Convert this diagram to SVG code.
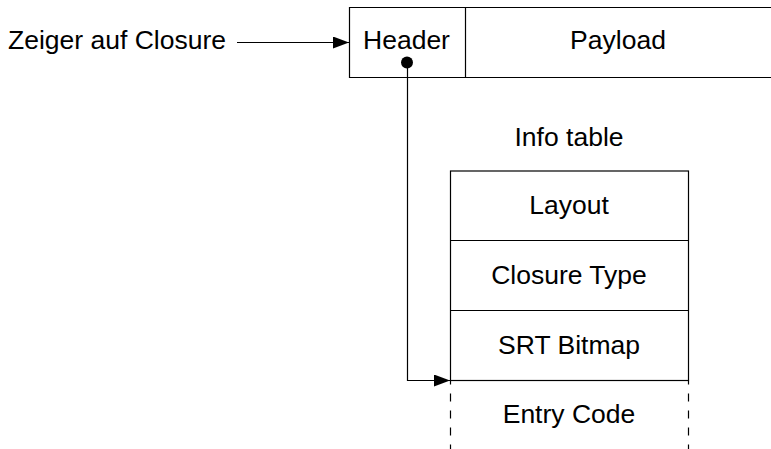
<svg xmlns="http://www.w3.org/2000/svg" width="771" height="449" viewBox="0 0 771 449">
  <style>
    text { font-family: "Liberation Sans", Arial, sans-serif; font-size: 26.5px; fill: #000; }
    .box { fill: #fff; stroke: #000; stroke-width: 1.2; }
    .line { fill: none; stroke: #000; stroke-width: 1.2; }
    .dash { fill: none; stroke: #000; stroke-width: 1.2; stroke-dasharray: 8 9; stroke-dashoffset: -13; }
  </style>
  <defs>
    <marker id="arrow" viewBox="0 0 16 12" refX="16" refY="6" markerWidth="16" markerHeight="12" markerUnits="userSpaceOnUse" orient="auto">
      <path d="M0,0 L16,6 L0,12 Z" fill="#000"/>
    </marker>
  </defs>

  <rect width="771" height="449" fill="#fff"/>

  <!-- pointer label -->
  <g id="pointer">
    <text x="8" y="49">Zeiger auf Closure</text>
  </g>

  <!-- closure object: header + payload -->
  <g id="closure">
    <path class="box" d="M772,7.5 H349.5 V77.5 H772"/>
    <line class="line" x1="465.5" y1="7.5" x2="465.5" y2="77.5"/>
    <text x="406.5" y="49" text-anchor="middle">Header</text>
    <text x="618" y="49" text-anchor="middle">Payload</text>
  </g>

  <!-- info table -->
  <g id="info-table">
    <text x="569" y="146" text-anchor="middle">Info table</text>
    <rect class="box" x="450.5" y="171" width="238" height="209.5"/>
    <line class="line" x1="450.5" y1="240.5" x2="688.5" y2="240.5"/>
    <line class="line" x1="450.5" y1="310.5" x2="688.5" y2="310.5"/>
    <text x="569" y="214" text-anchor="middle">Layout</text>
    <text x="569" y="284" text-anchor="middle">Closure Type</text>
    <text x="569" y="354" text-anchor="middle">SRT Bitmap</text>
  </g>

  <!-- entry code (open-ended) -->
  <g id="entry-code">
    <line class="dash" x1="450.5" y1="380.5" x2="450.5" y2="449"/>
    <line class="dash" x1="688.5" y1="380.5" x2="688.5" y2="449"/>
    <text x="569" y="423" text-anchor="middle">Entry Code</text>
  </g>

  <!-- connectors -->
  <g id="connectors">
    <line class="line" x1="237" y1="42.5" x2="349" y2="42.5" marker-end="url(#arrow)"/>
    <circle cx="407" cy="62.5" r="6" fill="#000"/>
    <path class="line" d="M407.5,62.5 V380.5 H450" marker-end="url(#arrow)"/>
  </g>
</svg>
